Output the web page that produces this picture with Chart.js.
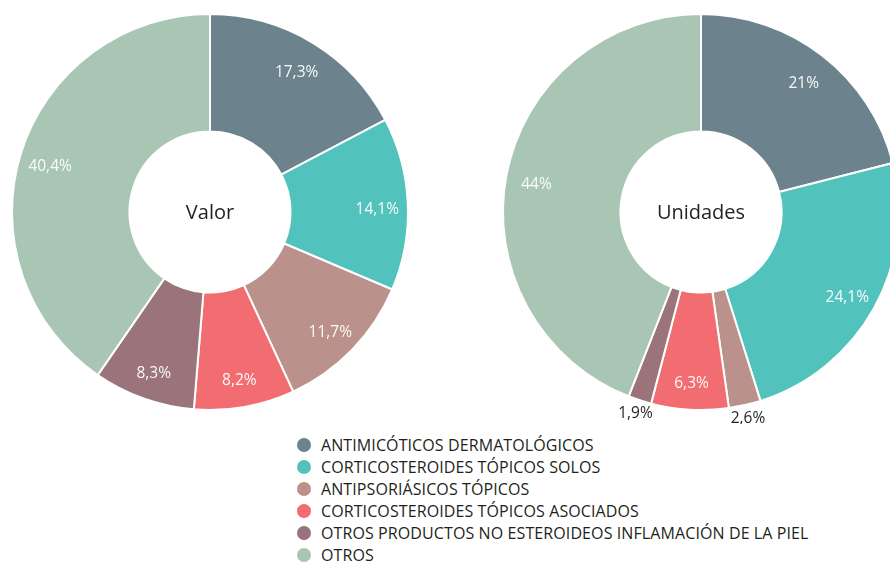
<!DOCTYPE html>
<html lang="es">
<head>
<meta charset="utf-8">
<title>Valor y Unidades</title>
<script src="https://cdn.jsdelivr.net/npm/chart.js@4.4.1/dist/chart.umd.min.js"></script>
<style>
  html, body { margin: 0; padding: 0; background: #fff; overflow: hidden; }
  body { width: 890px; height: 562px; position: relative; font-family: 'Open Sans', sans-serif; }
  .chart-box { position: absolute; top: 0; }
  #boxValor { left: 0; }
  #boxUnidades { left: 491px; }
  #legend { position: absolute; left: 297px; top: 434px; list-style: none; margin: 0; padding: 0; }
  #legend li { height: 22px; display: flex; align-items: center; font-size: 16px; letter-spacing: 0.1px; color: #231f20; white-space: nowrap; }
  #legend .dot { width: 14px; height: 14px; border-radius: 50%; margin-right: 10px; flex: none; }
</style>
</head>
<body>
<div class="chart-box" id="boxValor"><canvas id="valorChart" width="420" height="424"></canvas></div>
<div class="chart-box" id="boxUnidades"><canvas id="unidadesChart" width="420" height="424"></canvas></div>
<ul id="legend"></ul>

<script>
// categories (clockwise from the top)
const categories = [
  'ANTIMICÓTICOS DERMATOLÓGICOS',
  'CORTICOSTEROIDES TÓPICOS SOLOS',
  'ANTIPSORIÁSICOS TÓPICOS',
  'CORTICOSTEROIDES TÓPICOS ASOCIADOS',
  'OTROS PRODUCTOS NO ESTEROIDEOS INFLAMACIÓN DE LA PIEL',
  'OTROS'
];
const colors = ['#6c838e', '#52c2bd', '#bb918c', '#f26d71', '#9a737b', '#a9c5b3'];

// shares in %
const valorValues = [17.3, 14.1, 11.7, 8.2, 8.3, 40.4];
const unidadesValues = [21, 24.1, 2.6, 6.3, 1.9, 44];

(function () {
  'use strict';

  /* percent labels: white inside the ring, dark outside for tiny slices */
  const sliceLabels = {
    id: 'sliceLabels',
    afterDatasetsDraw(chart) {
      const ctx = chart.ctx;
      const meta = chart.getDatasetMeta(0);
      const values = chart.data.datasets[0].data;
      ctx.save();
      ctx.font = '15.5px "Open Sans"';
      ctx.textAlign = 'center';
      ctx.textBaseline = 'middle';
      meta.data.forEach((arc, i) => {
        const p = arc.getProps(['x', 'y', 'startAngle', 'endAngle', 'innerRadius', 'outerRadius'], true);
        const mid = (p.startAngle + p.endAngle) / 2;
        const outside = values[i] < 3;
        const r = outside ? p.outerRadius + 14 : p.innerRadius + (p.outerRadius - p.innerRadius) * 0.74;
        const dy = outside ? 0 : 4;
        ctx.fillStyle = outside ? '#231f20' : 'rgba(255,255,255,0.95)';
        const txt = String(values[i]).replace('.', ',') + '%';
        ctx.fillText(txt, p.x + Math.cos(mid) * r, p.y + Math.sin(mid) * r + dy);
      });
      ctx.restore();
    }
  };

  /* title in the hole */
  const centerTitle = {
    id: 'centerTitle',
    afterDraw(chart) {
      const ctx = chart.ctx;
      const a = chart.chartArea;
      ctx.save();
      ctx.font = '20px "Open Sans"';
      ctx.fillStyle = '#231f20';
      ctx.textAlign = 'center';
      ctx.textBaseline = 'middle';
      ctx.fillText(chart.options.plugins.centerTitle.text, (a.left + a.right) / 2, (a.top + a.bottom) / 2 + 1);
      ctx.restore();
    }
  };

  function makeDoughnut(id, title, values) {
    return new Chart(document.getElementById(id), {
      type: 'doughnut',
      data: {
        labels: categories,
        datasets: [{
          data: values,
          backgroundColor: colors,
          borderColor: '#ffffff',
          borderWidth: 2,
          hoverOffset: 0
        }]
      },
      options: {
        responsive: false,
        animation: false,
        radius: 198,
        cutout: 85,
        layout: { padding: 0 },
        plugins: {
          legend: { display: false },
          tooltip: { enabled: false },
          centerTitle: { text: title }
        }
      },
      plugins: [sliceLabels, centerTitle]
    });
  }

  makeDoughnut('valorChart', 'Valor', valorValues);
  makeDoughnut('unidadesChart', 'Unidades', unidadesValues);

  // shared legend under both charts
  const legend = document.getElementById('legend');
  categories.forEach((name, i) => {
    const li = document.createElement('li');
    const dot = document.createElement('span');
    dot.className = 'dot';
    dot.style.background = colors[i];
    li.appendChild(dot);
    li.appendChild(document.createTextNode(name));
    legend.appendChild(li);
  });
})();
</script>
</body>
</html>
